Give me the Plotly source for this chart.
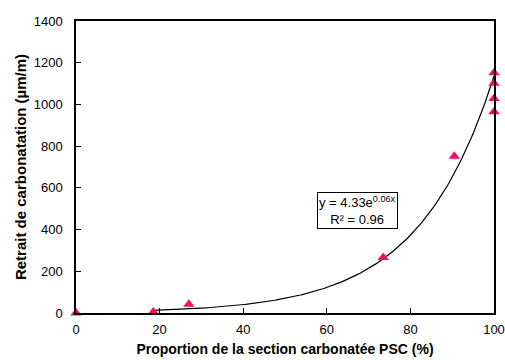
import numpy as np
import plotly.graph_objects as go

# Data
psc = [0, 18.5, 27, 73.5, 90.5, 100, 100, 100, 100]
retrait = [0, 5, 42, 266, 752, 1152, 1102, 1028, 965]

# Exponential trendline (displayed: y = 4.33e^0.06x, R² = 0.96)
trend_a = 4.33
trend_b = 0.0557
trend_x_start = 18.5
trend_x_end = 100

x_ticks = [0, 20, 40, 60, 80, 100]
y_ticks = [0, 200, 400, 600, 800, 1000, 1200, 1400]

tx = np.linspace(trend_x_start, trend_x_end, 200)
ty = trend_a * np.exp(trend_b * tx)

FONT = "Liberation Sans, Arial, sans-serif"

fig = go.Figure()
fig.add_trace(go.Scatter(x=tx, y=ty, mode="lines",
                         line=dict(color="black", width=1.2),
                         hoverinfo="skip", showlegend=False))
fig.add_trace(go.Scatter(x=psc, y=retrait, mode="markers",
                         marker=dict(symbol="triangle-up", size=10, color="#FF0A6A"),
                         cliponaxis=False, showlegend=False))

fig.add_annotation(x=0.673, y=0.351, xref="paper", yref="paper",
                   xanchor="center", yanchor="middle",
                   text="y = 4.33e<sup>0.06x</sup><br>R² = 0.96",
                   showarrow=False, align="center",
                   font=dict(family=FONT, size=13, color="black"),
                   bordercolor="black", borderwidth=1, borderpad=1, bgcolor="white")

axis_common = dict(showgrid=False, zeroline=False, showline=True, linecolor="black",
                   linewidth=1.5, mirror=True, ticks="inside", ticklen=5,
                   tickcolor="black", tickwidth=1, automargin=False,
                   tickfont=dict(family=FONT, size=13, color="black"))

fig.update_xaxes(range=[0, 100], tickvals=x_ticks, ticklabelstandoff=4,
                 title=dict(text="<b>Proportion de la section carbonatée PSC (%)</b>",
                            font=dict(family=FONT, size=14, color="black"),
                            standoff=8),
                 **axis_common)
fig.update_yaxes(range=[0, 1400], tickvals=y_ticks, ticklabelstandoff=9,
                 title=dict(text="<b>Retrait de carbonatation (µm/m)</b>",
                            font=dict(family=FONT, size=15, color="black"),
                            standoff=3),
                 **axis_common)

fig.update_layout(width=505, height=360,
                  margin=dict(l=76, r=11, t=21, b=47),
                  plot_bgcolor="white", paper_bgcolor="white")

fig.write_html("out.html", config={"displayModeBar": False},
               post_script="document.body.style.margin='0';document.body.style.overflow='hidden';")
